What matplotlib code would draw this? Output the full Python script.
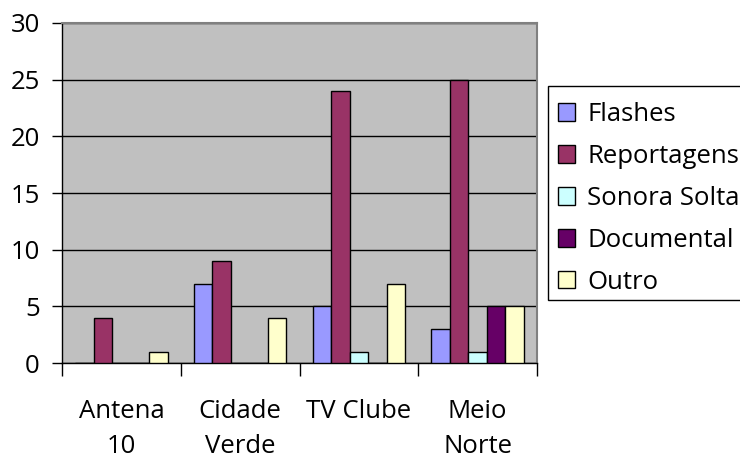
import matplotlib.pyplot as plt
from matplotlib.patches import Rectangle
import numpy as np

# dados
emissoras = ["Antena\n10", "Cidade\nVerde", "TV Clube", "Meio\nNorte"]
flashes = [0, 7, 5, 3]
reportagens = [4, 9, 24, 25]
sonora_solta = [0, 0, 1, 1]
documental = [0, 0, 0, 5]
outro = [1, 4, 7, 5]

series = [
    ("Flashes", flashes, "#9999FF"),
    ("Reportagens", reportagens, "#993366"),
    ("Sonora Solta", sonora_solta, "#CCFFFF"),
    ("Documental", documental, "#660066"),
    ("Outro", outro, "#FFFFCC"),
]

plt.rcParams["font.family"] = ["Open Sans", "DejaVu Sans"]

W, H = 740, 459
fig = plt.figure(figsize=(W / 100, H / 100), dpi=100)
ax = fig.add_axes([0.0838, 0.209, 0.6419, 0.741])
ax.set_facecolor("#C0C0C0")

x = np.arange(len(emissoras))
largura = 0.156
for i, (nome, valores, cor) in enumerate(series):
    ax.bar(x + (i - 2) * largura, valores, largura, color=cor,
           edgecolor="black", linewidth=1, label=nome, zorder=3)

ax.set_xlim(-0.5, len(emissoras) - 0.5)
ax.set_ylim(0, 30)
ax.set_yticks(range(0, 31, 5))
ax.yaxis.grid(True, color="black", linewidth=1, zorder=1)
ax.tick_params(axis="y", labelsize=18.5, length=7, width=1, pad=9,
               direction="out")

ax.set_xticks(x)
ax.set_xticklabels(emissoras, fontsize=18.5, linespacing=1.52)
ax.tick_params(axis="x", which="major", length=0, pad=26)
ax.set_xticks(np.arange(-0.5, len(emissoras)), minor=True)
ax.tick_params(axis="x", which="minor", length=9, width=1, color="black")

for lado in ["top", "right"]:
    ax.spines[lado].set_color("#808080")
    ax.spines[lado].set_linewidth(1.5)
ax.spines["left"].set_linewidth(1)
ax.spines["bottom"].set_linewidth(1)

# legenda (moldura desenhada à parte)
fig.patches.append(Rectangle((548 / W, 1 - 300 / H), 200 / W, 214 / H,
                             transform=fig.transFigure, facecolor="white",
                             edgecolor="black", linewidth=1))
leg = fig.legend(loc="upper left", bbox_to_anchor=(548 / W, 1 - 92 / H),
                 fontsize=18.5, frameon=False,
                 handlelength=0.66, handleheight=0.66, handletextpad=0.47,
                 labelspacing=0.66, borderpad=0.39, borderaxespad=0)

fig.savefig("out.png", dpi=100)
